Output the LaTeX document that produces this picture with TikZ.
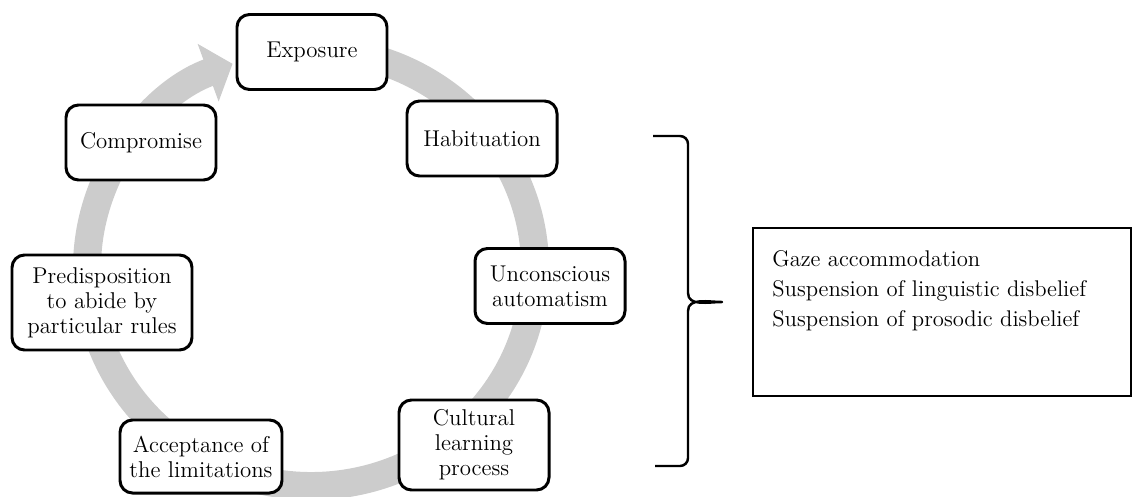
\documentclass[tikz,border=0pt]{standalone}
\usepackage{tikz}
\usetikzlibrary{arrows.meta}

\begin{document}
\begin{tikzpicture}[
    stage/.style={draw, line width=1.7pt, rounded corners=0.25cm, fill=white,
      align=center, minimum width=3cm, minimum height=1.5cm, inner sep=2pt,
      font=\fontsize{13}{14.2}\selectfont},
    ring/.style={line width=0.56cm, black!20, -{Triangle[width=1.2cm, length=0.52cm]}},
    bracket/.style={line width=1.4pt, line join=round}
  ]
    \useasboundingbox (0, 0) rectangle (22.66, 9.92);

    % Cycle ring with head pointing at Exposure
    \draw[ring] (6.22, 4.56) ++(80:4.48cm and 4.36cm)
      arc[start angle=80, end angle=-249.5, x radius=4.48cm, y radius=4.36cm];

    % Stages of the cycle
    \node[stage] (exposure) at (6.24, 8.88) {Exposure};
    \node[stage] (habituation) at (9.64, 7.15) {Habituation};
    \node[stage] (automatism) at (11.00, 4.20) {Unconscious\\automatism};
    \node[stage, minimum height=1.8cm] (learning) at (9.48, 1.02) {Cultural\\learning\\process};
    \node[stage, minimum width=3.24cm, minimum height=1.46cm] (acceptance) at (4.02, 0.79) {Acceptance of\\the limitations};
    \node[stage, minimum width=3.6cm, minimum height=1.9cm] (rules) at (2.04, 3.87) {Predisposition\\to abide by\\particular rules};
    \node[stage] (compromise) at (2.82, 7.07) {Compromise};

    % Brace
    \draw[bracket] (13.06, 7.20) -- (13.60, 7.20) to[out=0, in=90] (13.76, 7.04)
      -- (13.76, 4.06) to[out=-90, in=180] (14.44, 3.88)
      to[out=180, in=90] (13.76, 3.70) -- (13.76, 0.76)
      to[out=-90, in=0] (13.60, 0.60) -- (13.10, 0.60);

    % Summary box
    \node[draw, line width=1.2pt, minimum width=7.56cm, minimum height=3.36cm, anchor=north west]
      (summary) at (15.04, 5.38) {};
    \node[anchor=north west, inner sep=0pt, align=left,
      font=\fontsize{12.9}{17}\selectfont] (effects) at ([shift={(0.4, -0.46)}]summary.north west)
      {Gaze accommodation\\Suspension of linguistic disbelief\\Suspension of prosodic disbelief};
\end{tikzpicture}
\end{document}
